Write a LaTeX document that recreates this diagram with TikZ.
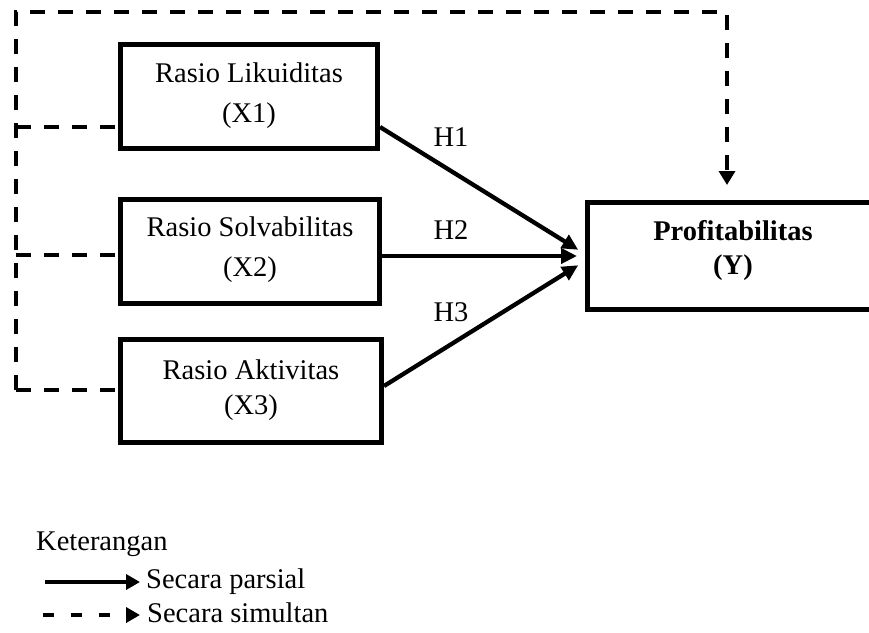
\documentclass[tikz,border=0pt]{standalone}
\usepackage{fontspec}
\setmainfont{Liberation Serif}
\usetikzlibrary{arrows.meta,calc}
\begin{document}
\begin{tikzpicture}[x=1pt,y=-1pt,
 box/.style={draw,line width=5pt,inner sep=0pt},
 txt/.style={inner sep=0pt,align=center,font=\fontsize{28.5}{40}\selectfont},
 lbl/.style={inner sep=0pt,font=\fontsize{28.5}{34}\selectfont},
 simline/.style={line width=4.3pt,dash pattern=on 15pt off 13pt},
 sim/.style={simline,-{Triangle[length=14pt,width=16pt]}},
 par/.style={line width=4.3pt,-{Triangle[length=16pt,width=15pt]}},
 leg/.style={line width=4.3pt,-{Triangle[length=14pt,width=15pt]}},
]
\useasboundingbox (0,0) rectangle (869,632);
% boxes
\node[box,minimum width=257pt,minimum height=104pt] (X1) at (249,96.5) {};
\node[box,minimum width=259pt,minimum height=104pt] (X2) at (250,251.5) {};
\node[box,minimum width=261pt,minimum height=103pt] (X3) at (251,391) {};
\node[box,minimum width=291pt,minimum height=107pt] (Y) at (733,256) {};
% box texts
\node[txt] (t1) at (249,95.3) {Rasio Likuiditas\\(X1)};
\node[txt] (t2) at (250,249.8) {Rasio Solvabilitas\\(X2)};
\node[txt,font=\fontsize{28.5}{35}\selectfont] (t3) at (251,390.3) {Rasio Aktivitas\\(X3)};
\node[txt,font=\bfseries\fontsize{28.5}{34}\selectfont] (ty) at (733,250.7) {Profitabilitas\\(Y)};
% dashed (simultaneous) connectors
\coordinate (tl) at (16,12);
\coordinate (tr) at (727,12);
\coordinate (d1) at (16,127);
\coordinate (d2) at (16,255);
\coordinate (d3) at (16,390);
\draw[sim,shorten >=15pt] (d3) -- (tl) -- (tr) -- (tr |- Y.north);
\draw[simline] (d1) -- (d1 -| X1.west);
\draw[simline] (d2) -- (d2 -| X2.west);
\draw[simline] (d3) -- (d3 -| X3.west);
% solid (partial) connectors
\draw[par,shorten >=8pt] (X1.east |- d1) -- ([yshift=2pt]Y.west);
\draw[par,shorten >=8pt] (X2.east |- Y.west) -- (Y.west);
\draw[par,shorten >=8pt] ([yshift=5pt]X3.east) -- ([yshift=-5pt]Y.west);
\node[lbl] (h1) at (451,137) {H1};
\node[lbl] (h2) at (451,230) {H2};
\node[lbl] (h3) at (451,312) {H3};
% legend
\node[lbl,anchor=base west] (ket) at (36,550) {Keterangan};
\node[lbl,anchor=base west] (lp) at (146,588) {Secara parsial};
\node[lbl,anchor=base west] (ls) at (147,622) {Secara simultan};
\coordinate (lp0) at (45,582);
\coordinate (ls0) at (43,615);
\draw[leg,shorten >=6pt] (lp0) -- (lp0 -| lp.west);
\draw[leg,dash pattern=on 11pt off 17pt,shorten >=7pt] (ls0) -- (ls0 -| ls.west);
\end{tikzpicture}
\end{document}
